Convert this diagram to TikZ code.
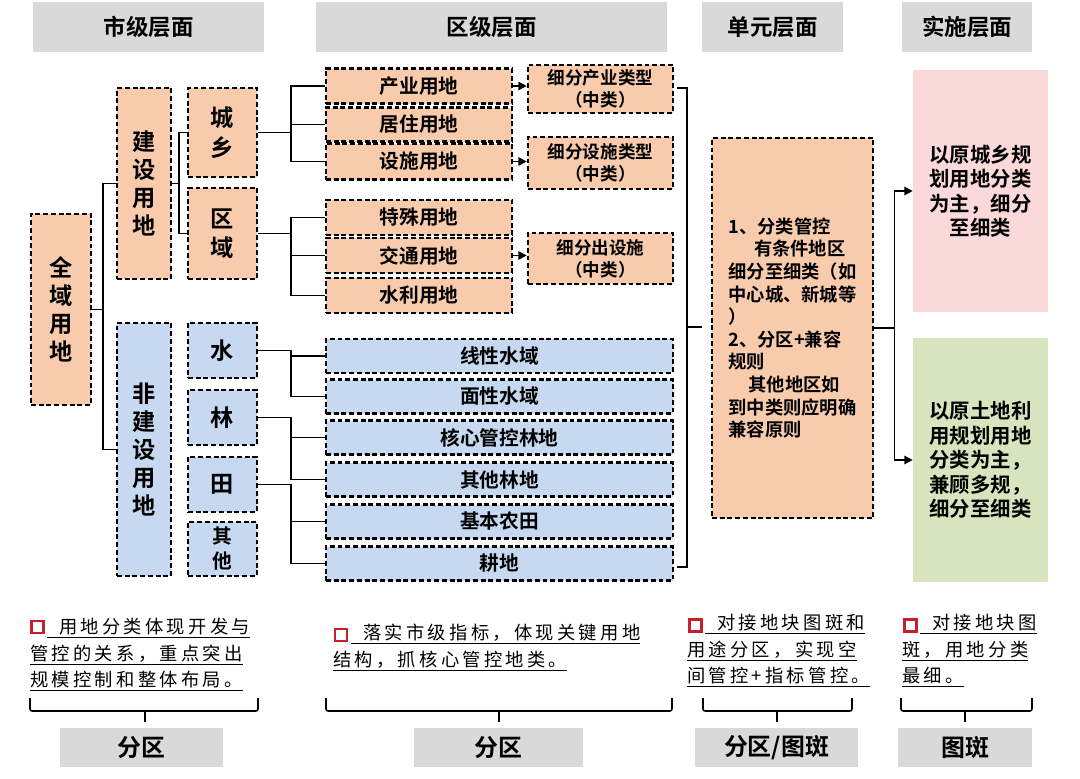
\documentclass[tikz,border=0pt]{standalone}
\usepackage{fontspec}
\setmainfont{Noto Sans CJK SC}[BoldFont={Noto Sans CJK SC Bold}]
\newfontfamily\songti{Noto Sans CJK SC}[LetterSpace=18]
\usetikzlibrary{arrows.meta}

\definecolor{peach}{HTML}{F8CBAD}
\definecolor{paleblue}{HTML}{C6D9F1}
\definecolor{palepink}{HTML}{FBD9DB}
\definecolor{palegreen}{HTML}{D8E4BD}
\definecolor{headgrey}{HTML}{D9D9D9}
\definecolor{markred}{HTML}{C8202A}

\begin{document}
\begin{tikzpicture}[x=0.025cm, y=-0.025cm,
  sz/.style 2 args={minimum width=#1*0.025cm, minimum height=#2*0.025cm},
  dbox/.style={draw, line width=1.8pt, dash pattern=on 3.5pt off 2pt, inner sep=0pt, align=center},
  orbox/.style={dbox, fill=peach},
  blbox/.style={dbox, fill=paleblue},
  head/.style={fill=headgrey, inner sep=0pt},
  fhead/.style={font=\fontsize{16}{19}\selectfont\bfseries},
  fleft/.style={font=\fontsize{16.5}{20}\selectfont\bfseries},
  fmid/.style={font=\fontsize{14}{17}\selectfont\bfseries},
  fsub/.style={font=\fontsize{12.5}{15.6}\selectfont\bfseries},
  funit/.style={font=\fontsize{13}{16.1}\selectfont\bfseries},
  fside/.style={font=\fontsize{14.5}{17.4}\selectfont\bfseries},
  fgrey/.style={font=\fontsize{17}{20}\selectfont\bfseries},
  fbody/.style={font=\songti\fontsize{13}{18.8}\selectfont, align=left, inner sep=0pt, anchor=north west},
  sqmark/.style={draw=markred, line width=2pt, fill=white, minimum size=0.3cm, inner sep=0pt},
  conn/.style={line width=1.1pt},
  arr/.style={-{Triangle[length=6pt,width=6pt]}},
  brace/.style={line width=1.1pt, rounded corners=1.5pt}]
\useasboundingbox (0,0) rectangle (1080,778);

% level headers
\node[head, fhead, sz={231}{50}] (hcity) at (148.5,27) {市级层面};
\node[head, fhead, sz={351}{50}] (hdist) at (491.5,27) {区级层面};
\node[head, fhead, sz={141}{50}] (hunit) at (772.5,27) {单元层面};
\node[head, fhead, sz={130}{50}] (himpl) at (967,27) {实施层面};

% city level
\node[orbox, fleft, sz={60}{191}] (all) at (61,309.5) {全\\域\\用\\地};
\node[orbox, fleft, sz={54}{191}] (jianshe) at (144,183.5) {建\\设\\用\\地};
\node[blbox, fleft, sz={54}{253}] (feijian) at (144,449.5) {非\\建\\设\\用\\地};
\node[orbox, font=\fontsize{16.5}{21}\selectfont\bfseries, sz={69}{89}] (chengxiang) at (222.5,132.5) {城\\乡};
\node[orbox, font=\fontsize{16.5}{21}\selectfont\bfseries, sz={69}{91}] (quyu) at (222.5,233.5) {区\\域};
\node[blbox, fleft, sz={69}{55}] (shui) at (222.5,350.5) {水};
\node[blbox, fleft, sz={69}{55}] (lin) at (222.5,417.5) {林};
\node[blbox, fleft, sz={69}{55}] (tian) at (222.5,484.5) {田};
\node[blbox, font=\fontsize{14}{17.8}\selectfont\bfseries, sz={69}{54}] (qita) at (222.5,549) {其\\他};

% district level
\node[orbox, fmid, sz={186}{35}] (chanye) at (419,86) {产业用地};
\node[orbox, fmid, sz={186}{34}] (juzhu) at (419,124.5) {居住用地};
\node[orbox, fmid, sz={186}{36}] (sheshi) at (419,161.5) {设施用地};
\node[orbox, fmid, sz={186}{35}] (teshu) at (419,217.5) {特殊用地};
\node[orbox, fmid, sz={186}{35}] (jiaotong) at (419,255.5) {交通用地};
\node[orbox, fmid, sz={186}{35}] (shuili) at (419,295.5) {水利用地};

\node[orbox, fsub, sz={145}{48}] (xfcy) at (600.5,89) {细分产业类型\\（中类）};
\node[orbox, fsub, sz={145}{52}] (xfss) at (600.5,163) {细分设施类型\\（中类）};
\node[orbox, fsub, sz={145}{51}] (xfjt) at (600.5,258.5) {细分出设施\\（中类）};

\node[blbox, fmid, sz={347}{34}] (xianxing) at (499.5,356) {线性水域};
\node[blbox, fmid, sz={347}{34}] (mianxing) at (499.5,396.5) {面性水域};
\node[blbox, fmid, sz={347}{34}] (hexin) at (499.5,437.5) {核心管控林地};
\node[blbox, fmid, sz={347}{34}] (qitalin) at (499.5,479.5) {其他林地};
\node[blbox, fmid, sz={347}{34}] (nongtian) at (499.5,521.5) {基本农田};
\node[blbox, fmid, sz={347}{34}] (gengdi) at (499.5,563.5) {耕地};

% unit level
\node[orbox, funit, sz={161}{380}, align=left] (unit) at (792.5,328)
  {1、分类管控\\\hspace*{1.4em}有条件地区\\细分至细类（如\\中心城、新城等\\）\\2、分区+兼容\\规则\\\hspace*{1.1em}其他地区如\\到中类则应明确\\兼容原则};

% implementation level
\node[fill=palepink, fside, sz={135}{242}, align=center] (pink) at (980.5,191)
  {以原城乡规\\划用地分类\\为主，细分\\至细类};
\node[fill=palegreen, fside, sz={135}{244}, align=center] (green) at (980.5,460)
  {以原土地利\\用规划用地\\分类为主，\\兼顾多规，\\细分至细类};

% tree lines
\draw[conn] (all.east) -- ++(11,0) coordinate (k0) |- (jianshe.west);
\draw[conn] (k0) |- (feijian.west);
\draw[conn] (jianshe.east) -- ++(7,0) coordinate (k1) |- (chengxiang.west);
\draw[conn] (k1) |- (quyu.west);
\foreach \n in {chanye,juzhu,sheshi}
  \draw[conn] (chengxiang.east) -- ++(33,0) |- (\n.west);
\foreach \n in {teshu,jiaotong,shuili}
  \draw[conn] (quyu.east) -- ++(33,0) |- (\n.west);
\foreach \n in {xianxing,mianxing}
  \draw[conn] (shui.east) -- ++(33,0) |- (\n.west);
\foreach \n in {hexin,qitalin}
  \draw[conn] (lin.east) -- ++(33,0) |- (\n.west);
\foreach \n in {nongtian,gengdi}
  \draw[conn] (tian.east) -- ++(33,0) |- (\n.west);

\draw[conn, arr] (chanye.east) -- (chanye.east -| xfcy.west);
\draw[conn, arr] (sheshi.east) -- (sheshi.east -| xfss.west);
\draw[conn, arr] (jiaotong.east) -- (jiaotong.east -| xfjt.west);

% bracket to unit box
\coordinate (bt) at (677,88);
\coordinate (bb) at (677,567);
\coordinate (bm) at (702,327);
\draw[conn] (bt) -- ++(10,0) |- (bb);
\draw[conn] (bm) -- ++(-15,0);

\draw[conn] (unit.east) -- ++(20,0) coordinate (fork);
\draw[conn, arr] (fork) |- (pink.west);
\draw[conn, arr] (fork) |- (green.west);

% notes
\node[fbody] (note1) at (30,618)
  {\hspace*{0.42cm}\underline{\hspace*{0.3cm}用地分类体现开发与}\\\underline{管控的关系，重点突出}\\\underline{规模控制和整体布局。}};
\node[fbody] (note2) at (333,624)
  {\hspace*{0.45cm}\underline{\hspace*{0.3cm}落实市级指标，体现关键用地}\\\underline{结构，抓核心管控地类。}};
\node[fbody] (note3) at (687,614)
  {\hspace*{0.45cm}\underline{\hspace*{0.3cm}对接地块图斑和}\\\underline{用途分区，实现空}\\\underline{间管控+指标管控。}};
\node[fbody] (note4) at (902,614)
  {\hspace*{0.45cm}\underline{\hspace*{0.3cm}对接地块图}\\\underline{斑，用地分类}\\\underline{最细。}};
\node[sqmark] (m1) at (37.5,627) {};
\node[sqmark] (m2) at (341,635) {};
\node[sqmark] (m3) at (695.5,625.5) {};
\node[sqmark] (m4) at (910.5,625.5) {};

% braces
\foreach \l/\m/\r in {30/145/258, 326/499/672, 703/777/852, 901/965/1032} {
  \draw[brace] (\l,698) -- (\l,711) -- (\r,711) -- (\r,698);
  \draw[brace] (\m,711) -- (\m,722);
}

% bottom tags
\node[head, fgrey, sz={163}{39}] (g1) at (141.5,747.5) {分区};
\node[head, fgrey, sz={169}{39}] (g2) at (498.5,747.5) {分区};
\node[head, fgrey, sz={163}{39}] (g3) at (776.5,747.5) {分区/图斑};
\node[head, fgrey, sz={134}{39}] (g4) at (965,747.5) {图斑};
\end{tikzpicture}
\end{document}
